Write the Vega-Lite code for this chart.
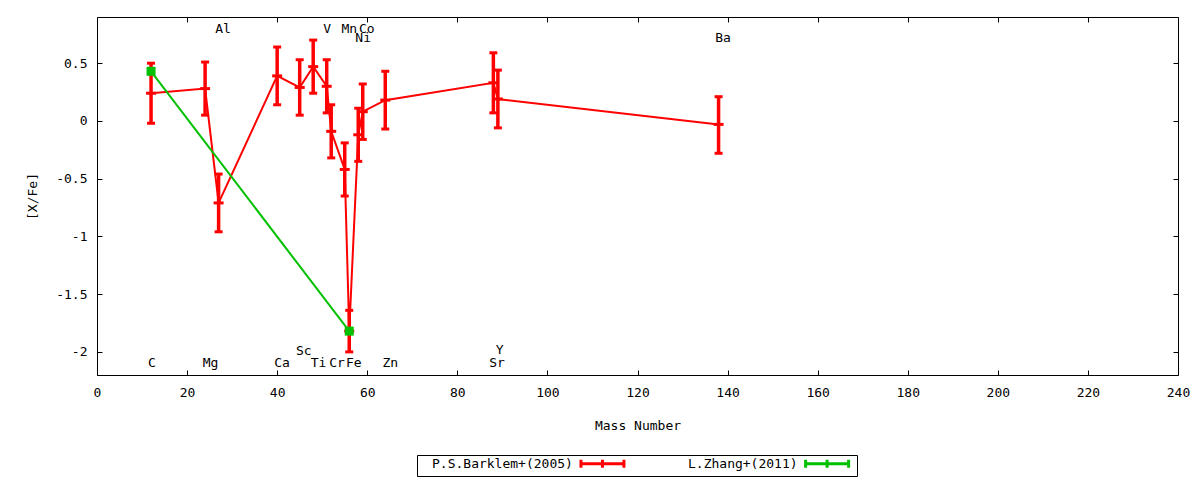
{
  "$schema": "https://vega.github.io/schema/vega-lite/v6.json",
  "width": 1081,
  "height": 358,
  "autosize": "none",
  "padding": {"left": 97, "top": 17, "right": 22, "bottom": 105},
  "background": "white",
  "config": {
    "font": "DejaVu Sans Mono",
    "view": {"stroke": "black", "strokeWidth": 1},
    "axis": {
      "grid": false,
      "domain": false,
      "tickSize": -5,
      "tickColor": "black",
      "tickWidth": 1,
      "labelColor": "black",
      "labelFontSize": 13,
      "labelFont": "DejaVu Sans Mono",
      "titleFont": "DejaVu Sans Mono",
      "titleFontSize": 13,
      "titleFontWeight": "normal",
      "titleColor": "black",
      "labelFlush": false
    }
  },
  "datasets": {
    "points": [
      {"series": "P.S.Barklem+(2005)", "el": "C", "mass": 12, "val": 0.24, "lo": -0.02, "hi": 0.50},
      {"series": "P.S.Barklem+(2005)", "el": "Mg", "mass": 24, "val": 0.28, "lo": 0.05, "hi": 0.51},
      {"series": "P.S.Barklem+(2005)", "el": "Al", "mass": 27, "val": -0.71, "lo": -0.96, "hi": -0.46},
      {"series": "P.S.Barklem+(2005)", "el": "Ca", "mass": 40, "val": 0.39, "lo": 0.14, "hi": 0.64},
      {"series": "P.S.Barklem+(2005)", "el": "Sc", "mass": 45, "val": 0.29, "lo": 0.05, "hi": 0.53},
      {"series": "P.S.Barklem+(2005)", "el": "Ti", "mass": 48, "val": 0.47, "lo": 0.24, "hi": 0.70},
      {"series": "P.S.Barklem+(2005)", "el": "V", "mass": 51, "val": 0.30, "lo": 0.07, "hi": 0.53},
      {"series": "P.S.Barklem+(2005)", "el": "Cr", "mass": 52, "val": -0.09, "lo": -0.32, "hi": 0.14},
      {"series": "P.S.Barklem+(2005)", "el": "Mn", "mass": 55, "val": -0.42, "lo": -0.65, "hi": -0.19},
      {"series": "P.S.Barklem+(2005)", "el": "Fe", "mass": 56, "val": -1.82, "lo": -2.00, "hi": -1.64},
      {"series": "P.S.Barklem+(2005)", "el": "Ni", "mass": 58, "val": -0.12, "lo": -0.35, "hi": 0.11},
      {"series": "P.S.Barklem+(2005)", "el": "Co", "mass": 59, "val": 0.08, "lo": -0.16, "hi": 0.32},
      {"series": "P.S.Barklem+(2005)", "el": "Zn", "mass": 64, "val": 0.18, "lo": -0.07, "hi": 0.43},
      {"series": "P.S.Barklem+(2005)", "el": "Sr", "mass": 88, "val": 0.33, "lo": 0.07, "hi": 0.59},
      {"series": "P.S.Barklem+(2005)", "el": "Y", "mass": 89, "val": 0.19, "lo": -0.06, "hi": 0.44},
      {"series": "P.S.Barklem+(2005)", "el": "Ba", "mass": 138, "val": -0.03, "lo": -0.28, "hi": 0.21},
      {"series": "L.Zhang+(2011)", "el": "C", "mass": 12, "val": 0.43},
      {"series": "L.Zhang+(2011)", "el": "Fe", "mass": 56, "val": -1.82}
    ],
    "labels": [
      {"el": "Al", "lx": 28.0, "ly": 0.80},
      {"el": "V", "lx": 51.1, "ly": 0.80},
      {"el": "Mn", "lx": 56.0, "ly": 0.80},
      {"el": "Co", "lx": 59.9, "ly": 0.80},
      {"el": "Ni", "lx": 59.1, "ly": 0.715},
      {"el": "Ba", "lx": 139.0, "ly": 0.72},
      {"el": "C", "lx": 12.2, "ly": -2.10},
      {"el": "Mg", "lx": 25.2, "ly": -2.10},
      {"el": "Ca", "lx": 41.1, "ly": -2.10},
      {"el": "Sc", "lx": 45.9, "ly": -1.99},
      {"el": "Ti", "lx": 49.2, "ly": -2.10},
      {"el": "Cr", "lx": 53.3, "ly": -2.10},
      {"el": "Fe", "lx": 57.0, "ly": -2.10},
      {"el": "Zn", "lx": 65.1, "ly": -2.10},
      {"el": "Sr", "lx": 88.8, "ly": -2.10},
      {"el": "Y", "lx": 89.4, "ly": -1.98}
    ]
  },
  "layer": [
    {
      "data": {"name": "points"},
      "mark": {"type": "line", "strokeWidth": 2},
      "encoding": {
        "x": {
          "field": "mass", "type": "quantitative",
          "scale": {"domain": [0, 240], "nice": false, "zero": false},
          "axis": {
            "orient": "bottom",
            "values": [0, 20, 40, 60, 80, 100, 120, 140, 160, 180, 200, 220, 240],
            "labelPadding": 16,
            "title": "Mass Number",
            "titlePadding": 20
          }
        },
        "y": {
          "field": "val", "type": "quantitative",
          "scale": {"domain": [-2.2, 0.9], "nice": false, "zero": false},
          "axis": {
            "orient": "left",
            "values": [-2, -1.5, -1, -0.5, 0, 0.5],
            "labelExpr": "'' + datum.value",
            "labelPadding": 15,
            "title": "[X/Fe]",
            "titlePadding": 16
          }
        },
        "color": {
          "field": "series", "type": "nominal",
          "scale": {"domain": ["P.S.Barklem+(2005)", "L.Zhang+(2011)"], "range": ["#ff0000", "#00c000"]},
          "legend": {
            "orient": "none",
            "legendX": 320,
            "legendY": 438,
            "direction": "horizontal",
            "title": null,
            "strokeColor": "black",
            "padding": 2,
            "symbolType": "M-4.3,0H4.3M-4.3,-0.8V0.8M4.3,-0.8V0.8M0,-0.8V0.8",
            "symbolSize": 100,
            "symbolStrokeWidth": 3,
            "labelAlign": "left",
            "labelFontSize": 13,
            "labelFont": "DejaVu Sans Mono",
            "labelColor": "black",
            "labelLimit": 0,
            "columnPadding": 45,
            "encode": {
              "labels": {"update": {"x": {"value": 13}}},
              "symbols": {"update": {"x": {"signal": "length(datum.label) * 7.83 + 42.5"}}}
            }
          }
        }
      }
    },
    {
      "data": {"name": "points"},
      "transform": [{"filter": "datum.series === 'P.S.Barklem+(2005)'"}],
      "mark": {"type": "rule", "color": "#ff0000", "strokeWidth": 3.5},
      "encoding": {
        "x": {"field": "mass", "type": "quantitative", "axis": null},
        "y": {"field": "lo", "type": "quantitative", "axis": null},
        "y2": {"field": "hi"}
      }
    },
    {
      "data": {"name": "points"},
      "transform": [{"filter": "datum.series === 'P.S.Barklem+(2005)'"}],
      "mark": {"type": "tick", "orient": "horizontal", "color": "#ff0000", "size": 8, "thickness": 3, "opacity": 1},
      "encoding": {
        "x": {"field": "mass", "type": "quantitative", "axis": null},
        "y": {"field": "lo", "type": "quantitative", "axis": null}
      }
    },
    {
      "data": {"name": "points"},
      "transform": [{"filter": "datum.series === 'P.S.Barklem+(2005)'"}],
      "mark": {"type": "tick", "orient": "horizontal", "color": "#ff0000", "size": 8, "thickness": 3, "opacity": 1},
      "encoding": {
        "x": {"field": "mass", "type": "quantitative", "axis": null},
        "y": {"field": "hi", "type": "quantitative", "axis": null}
      }
    },
    {
      "data": {"name": "points"},
      "transform": [{"filter": "datum.series === 'P.S.Barklem+(2005)'"}],
      "mark": {"type": "tick", "orient": "horizontal", "color": "#ff0000", "size": 10, "thickness": 3, "opacity": 1},
      "encoding": {
        "x": {
          "field": "mass", "type": "quantitative",
          "axis": {
            "orient": "top",
            "values": [0, 20, 40, 60, 80, 100, 120, 140, 160, 180, 200, 220, 240],
            "labels": false,
            "title": null
          }
        },
        "y": {
          "field": "val", "type": "quantitative",
          "axis": {
            "orient": "right",
            "values": [-2, -1.5, -1, -0.5, 0, 0.5],
            "labels": false,
            "title": null
          }
        }
      }
    },
    {
      "data": {"name": "points"},
      "transform": [{"filter": "datum.series === 'L.Zhang+(2011)'"}],
      "mark": {"type": "point", "shape": "square", "filled": true, "size": 81, "color": "#00c000", "opacity": 1},
      "encoding": {
        "x": {"field": "mass", "type": "quantitative", "axis": null},
        "y": {"field": "val", "type": "quantitative", "axis": null}
      }
    },
    {
      "data": {"name": "labels"},
      "mark": {"type": "text", "font": "DejaVu Sans Mono", "fontSize": 13, "color": "black", "align": "center", "baseline": "middle"},
      "encoding": {
        "x": {"field": "lx", "type": "quantitative", "axis": null},
        "y": {"field": "ly", "type": "quantitative", "axis": null},
        "text": {"field": "el"}
      }
    }
  ]
}
